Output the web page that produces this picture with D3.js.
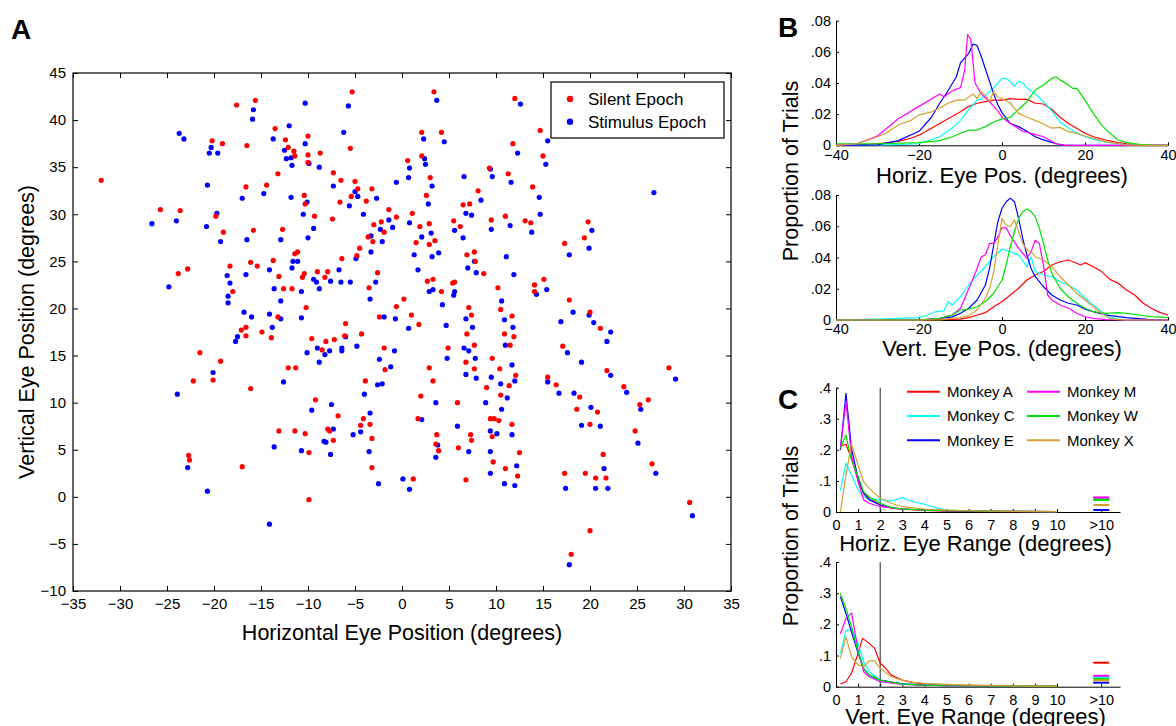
<!doctype html>
<html lang="en">
<head>
<meta charset="UTF-8" />
<title>Eye position during fixation</title>
<style>
  body { margin: 0; background: #fff; font-family: "Liberation Sans", Arial, sans-serif; }
  svg { display: block; }
  .axis text { font-family: "Liberation Sans", Arial, sans-serif; fill: #000; }
  .axis path, .axis line { stroke: #000; }
</style>
</head>
<body>
<svg id="chart" width="1176" height="726"></svg>
<script src="https://d3js.org/d3.v7.min.js"></script>
<script>
// panel A: eye position per trial, [horizontal, vertical] in degrees
const silent = [
  [-17.6,41.6],[-15.6,42.1],[-20.2,37.8],[-19.1,37.5],[-16.5,37.3],[-13.5,39.1],[-12.4,37.9],[-12.1,37.1],[-11.5,36.7],[-11.4,36.2],
  [-32.0,33.6],[-16.6,32.9],[-14.4,33.1],[-13.2,34.3],[-25.7,30.5],[-23.6,30.4],[-19.8,29.8],[-19.0,28.1],[-15.8,28.3],[-12.7,28.4],
  [-11.4,25.8],[-18.3,24.5],[-16.1,24.9],[-15.4,24.5],[-13.7,25.1],[-23.8,23.7],[-22.8,24.2],[-13.1,23.4],[-12.6,22.1],[-11.7,22.1],
  [-18.0,21.8],[-13.2,19.1],[-16.6,18.0],
  [-5.3,43.0],[3.4,43.0],[-10.0,38.3],[-10.0,36.3],[-10.0,35.5],[-8.7,36.5],[-5.5,37.0],[2.1,38.7],[4.2,38.7],[2.1,36.2],
  [0.6,35.7],[3.0,33.9],[2.6,32.0],[11.8,37.5],[9.3,34.9],[11.3,34.3],[-7.3,34.4],[-6.5,33.6],[-5.0,33.5],[-4.7,32.7],
  [-5.4,31.9],[-6.6,31.3],[-3.2,32.7],[-3.8,31.4],[-1.4,30.5],[-0.6,29.7],[-2.2,29.2],[-3.0,28.9],[-1.9,28.1],[-3.6,27.6],
  [-3.1,27.1],[-10.4,32.0],[-10.3,31.1],[-9.3,29.8],[-7.4,29.5],[1.1,30.1],[1.9,28.7],[2.9,29.0],[1.5,27.0],[2.9,26.8],
  [3.5,27.2],[2.7,22.9],[3.3,23.1],[4.2,21.8],[0.2,21.0],[-0.6,20.2],[1.0,19.3],[1.8,18.3],[5.5,29.3],[6.2,28.7],
  [6.5,31.0],[7.2,31.1],[8.1,32.5],[9.5,29.4],[11.0,29.8],[6.9,25.7],[7.7,26.0],[7.8,25.0],[8.7,23.7],[5.4,22.7],
  [5.6,22.8],[10.2,22.2],[10.5,19.9],[11.7,19.2],[7.1,20.1],[7.4,19.3],[-6.0,18.4],[-2.4,19.1],[-3.5,22.2],[-2.6,23.8],
  [-4.5,26.4],[-4.8,25.6],[-6.4,25.3],[-7.9,23.9],[-8.2,23.3],[-9.0,23.9],[-10.4,23.7],[-10.6,23.3],[-11.1,26.0],[-10.2,20.1],
  [12.0,42.3],[14.7,38.9],[15.0,36.2],[13.9,32.9],[13.1,29.3],[13.7,29.1],[17.3,26.9],[19.8,29.2],[19.4,27.5],[14.1,22.5],
  [15.1,23.1],[14.1,21.8],[17.8,20.9],[20.0,19.6],[21.1,17.9],
  [-17.1,17.7],[-14.9,17.5],[-16.6,17.1],[-13.9,16.9],[-21.5,15.3],[-19.3,14.4],[-20.1,12.4],[-22.2,12.3],[-16.1,11.5],[-12.1,13.7],
  [-13.1,7.0],[-11.4,7.0],[-22.7,4.4],[-22.6,3.9],[-17.0,3.2],
  [-9.6,16.8],[-8.1,16.5],[-7.2,16.7],[-6.1,17.1],[-8.5,15.6],[-11.3,13.7],[-4.3,17.3],[-1.9,15.8],[-1.8,13.5],[6.9,17.3],
  [4.9,15.8],[7.7,16.1],[6.8,14.3],[7.7,13.6],[10.9,17.3],[11.9,17.0],[11.5,16.1],[9.6,14.7],[10.4,13.6],[11.4,11.8],
  [9.0,11.6],[10.5,10.8],[9.4,8.3],[9.8,8.3],[10.3,8.1],[11.7,7.7],[9.6,6.4],[9.7,3.7],[11.0,3.0],[2.9,13.7],
  [3.3,12.3],[2.0,10.7],[1.7,8.3],[5.9,10.0],[7.3,6.6],[7.4,6.0],[6.0,5.2],[6.8,1.8],[3.7,6.6],[3.6,5.6],
  [3.9,4.9],[1.2,1.9],[-3.9,12.3],[-4.1,8.3],[-4.4,7.6],[-3.4,7.7],[-3.2,6.2],[-3.2,3.1],[-9.2,10.3],[-6.8,8.6],
  [-7.9,7.2],[-7.7,7.0],[-7.3,6.0],[-10.3,6.7],[-9.9,4.7],[-9.9,-0.3],
  [17.1,16.0],[21.8,13.4],[12.1,12.9],[15.5,12.7],[16.4,11.9],[18.9,10.6],[23.6,11.7],[25.3,9.8],[26.2,10.3],[28.4,13.7],
  [18.6,9.3],[20.8,9.0],[20.0,7.7],[24.8,7.0],[21.4,4.5],[26.6,3.5],[12.5,4.7],[12.3,2.2],[17.3,2.5],[19.5,2.5],
  [20.6,2.0],[21.7,2.0],[30.6,-0.6],[20.0,-3.6],[18.0,-6.1]
];

const stimulus = [
  [-15.8,41.1],[-15.9,40.1],[-23.7,38.6],[-23.2,38.0],[-20.3,37.1],[-20.5,36.5],[-19.6,36.5],[-12.0,39.4],[-13.7,38.0],[-12.5,36.8],
  [-11.8,36.0],[-12.3,35.9],[-11.7,35.2],[-20.7,33.1],[-17.0,31.7],[-14.7,32.2],[-11.8,31.8],[-26.6,29.0],[-24.0,29.3],[-19.7,30.1],
  [-20.8,28.7],[-19.3,27.1],[-16.5,27.3],[-12.9,27.3],[-11.6,25.0],[-11.7,24.3],[-14.1,24.1],[-18.6,23.5],[-16.6,23.6],[-18.3,22.7],
  [-13.6,22.1],[-24.8,22.3],[-18.5,21.3],[-18.5,20.6],[-12.9,20.8],[-16.8,19.6],[-16.0,19.1],[-14.1,19.4],[-12.9,18.9],[-13.8,18.0],
  [-10.3,41.8],[-5.7,41.5],[3.7,42.1],[-6.2,38.7],[-10.3,37.5],[-9.9,35.4],[-8.8,35.0],[2.3,38.0],[4.5,37.7],[2.4,35.9],
  [2.5,35.3],[0.8,34.9],[0.7,33.9],[3.2,33.0],[2.8,31.1],[9.4,34.8],[9.6,34.0],[6.6,34.0],[11.6,33.4],[-0.6,33.4],
  [-7.3,33.0],[-5.0,32.4],[-4.7,31.9],[-5.6,30.9],[-2.7,31.7],[-4.1,30.0],[-1.4,29.4],[-1.0,28.6],[-2.3,28.4],[-3.3,27.7],
  [-2.1,27.1],[-10.1,31.3],[-10.5,30.0],[-9.4,28.5],[-10.0,27.5],[0.8,29.1],[3.1,28.0],[2.1,27.6],[1.3,25.7],[3.9,25.9],
  [3.2,25.5],[1.7,24.1],[2.9,21.8],[3.3,22.0],[4.3,20.4],[0.7,17.9],[4.7,18.2],[5.6,28.3],[6.5,27.5],[6.8,30.1],
  [7.4,29.9],[8.4,31.5],[9.5,28.4],[11.5,28.8],[7.7,25.0],[7.0,24.3],[7.9,23.8],[11.1,25.5],[11.9,23.6],[5.6,21.8],
  [5.5,21.4],[10.6,20.8],[10.9,18.8],[11.8,18.0],[6.8,18.9],[7.5,18.0],[-1.9,19.1],[-0.7,18.9],[-3.4,21.0],[-2.8,22.8],
  [-3.3,26.0],[-4.9,25.3],[-6.7,24.1],[-6.5,22.8],[-5.5,22.8],[-7.6,22.9],[-8.8,22.1],[-9.1,22.8],[-9.4,23.1],[-11.1,25.0],
  [-10.7,21.8],[-10.7,19.0],
  [12.6,41.7],[15.5,37.8],[12.3,36.5],[15.3,35.3],[14.6,31.8],[14.7,30.0],[13.8,28.1],[17.8,25.7],[20.2,28.3],[19.9,26.4],
  [26.8,32.3],[14.3,21.5],[15.4,22.0],[18.2,19.6],[19.9,19.3],[16.9,18.6],[20.4,18.5],
  [-17.5,17.0],[-17.7,16.5],[-20.1,13.2],[-23.9,10.9],[-12.6,12.2],[-13.6,5.3],[-22.8,3.1],[-20.7,0.6],[-14.1,-2.9],
  [-6.0,17.0],[-10.1,15.3],[-9.0,15.8],[-8.2,15.1],[-7.7,15.5],[-6.4,15.8],[-6.4,15.5],[-8.8,14.3],[-4.8,16.0],[-0.8,15.5],
  [-2.4,14.6],[-1.2,13.8],[4.8,14.7],[6.6,15.8],[7.1,15.5],[7.8,14.7],[6.8,13.0],[7.9,12.6],[11.0,16.1],[9.5,12.7],
  [10.5,12.0],[11.7,14.0],[8.9,10.0],[11.2,10.5],[10.6,9.3],[9.4,7.0],[10.1,6.7],[11.7,6.6],[9.4,4.8],[9.4,2.5],
  [10.9,1.4],[12.0,1.2],[3.6,10.0],[2.1,8.2],[5.9,7.5],[7.1,4.8],[3.8,5.5],[3.6,4.2],[0.1,1.9],[0.8,0.8],
  [-2.5,1.4],[-4.0,10.9],[-3.4,8.9],[-4.4,6.9],[-5.2,6.6],[-3.5,4.8],[-2.6,11.9],[-2.1,12.0],[-9.6,9.2],[-7.5,9.8],
  [-7.3,7.2],[-8.3,5.9],[-8.1,5.8],[-7.6,4.5],[-10.7,4.9],
  [22.2,17.5],[21.8,16.5],[17.6,15.3],[19.1,14.3],[22.2,12.9],[12.0,12.3],[15.5,12.2],[16.7,11.0],[18.3,11.0],[23.9,11.1],
  [25.4,9.3],[29.1,12.5],[20.1,9.5],[19.1,7.6],[21.1,7.5],[25.1,5.7],[27.0,2.5],[12.2,3.3],[17.4,0.9],[20.6,0.9],
  [21.5,3.0],[21.9,0.9],[30.9,-2.0],[17.8,-7.2]
];

const scatterXTicks = d3.range(-35, 36, 5);
const scatterYTicks = d3.range(-10, 46, 5);
const epochNames = ["Silent Epoch", "Stimulus Epoch"];
const epochColors = ["#ff0000", "#0000ff"];

// panels B and C: one curve per monkey, [degrees, proportion]
const monkeys = ["Monkey A", "Monkey C", "Monkey E", "Monkey M", "Monkey W", "Monkey X"];
const monkeyColors = ["#ff0000", "#00ffff", "#0000ff", "#ff00ff", "#00e000", "#d4a030"];

const hPosA = [[-40,0],[-35,0.0002],[-30,0.001],[-25,0.0025],[-22,0.0045],[-20,0.0065],[-17,0.011],[-15,0.014],[-13,0.017],[-10,0.0215],[-8,0.025],[-6,0.027],[-4,0.028],[-2,0.029],[0,0.029],[2,0.030],[4,0.0295],[6,0.0295],[8,0.027],[10,0.0265],[12,0.023],[14,0.018],[16,0.014],[18,0.011],[20,0.0077],[22,0.0055],[25,0.0034],[28,0.0017],[30,0.001],[35,0.0002],[40,0]];
const hPosC = [[-40,0],[-30,0.0002],[-25,0.0005],[-20,0.001],[-15,0.0055],[-12,0.011],[-10,0.016],[-8,0.023],[-6,0.029],[-5,0.03],[-4,0.032],[-2,0.037],[0,0.043],[1,0.043],[2,0.041],[3,0.038],[4,0.041],[5,0.04],[6,0.037],[8,0.033],[10,0.028],[12,0.022],[14,0.015],[16,0.011],[18,0.008],[20,0.0055],[22,0.004],[25,0.002],[28,0.001],[30,0.0003],[35,0],[40,0]];
const hPosE = [[-40,0],[-30,0.0003],[-25,0.003],[-20,0.009],[-17,0.018],[-15,0.027],[-13,0.035],[-11,0.044],[-10,0.053],[-8,0.059],[-7,0.065],[-6,0.064],[-5,0.057],[-4,0.049],[-3,0.041],[-2,0.033],[-1,0.026],[0,0.021],[2,0.014],[4,0.012],[6,0.009],[8,0.0055],[10,0.0035],[13,0.001],[15,0.0002],[20,0],[40,0]];
const hPosM = [[-40,0],[-35,0.001],[-30,0.006],[-25,0.017],[-20,0.025],[-15,0.033],[-14,0.031],[-12,0.035],[-10,0.037],[-9,0.048],[-8.3,0.071],[-7.5,0.068],[-6.5,0.04],[-5,0.033],[-3,0.028],[-1,0.022],[0,0.018],[2,0.014],[5,0.009],[8,0.007],[10,0.0055],[13,0.001],[15,0],[40,0]];
const hPosW = [[-40,0.001],[-30,0.001],[-20,0.0017],[-15,0.003],[-12,0.0055],[-10,0.0077],[-8,0.0098],[-6,0.0098],[-4,0.012],[-2,0.015],[0,0.017],[2,0.018],[4,0.023],[6,0.028],[8,0.0355],[10,0.0387],[12,0.043],[13,0.044],[14,0.042],[16,0.0387],[17,0.0366],[18,0.0366],[20,0.029],[22,0.0205],[24,0.013],[26,0.0077],[28,0.0034],[30,0.0017],[33,0.0006],[36,0.0002],[40,0]];
const hPosX = [[-40,0],[-35,0.001],[-30,0.0055],[-28,0.0077],[-25,0.013],[-22,0.016],[-20,0.0195],[-17,0.0215],[-15,0.024],[-13,0.027],[-11,0.029],[-9,0.029],[-7,0.033],[-6,0.030],[-5,0.0345],[-4,0.032],[-3,0.028],[-2,0.0345],[-1,0.031],[0,0.030],[2,0.027],[4,0.0205],[6,0.018],[8,0.016],[10,0.0137],[12,0.011],[14,0.0115],[16,0.0088],[18,0.0077],[20,0.006],[22,0.0045],[25,0.0024],[28,0.001],[30,0.0003],[35,0],[40,0]];

const vPosA = [[-40,0],[-20,0],[-10,0.0006],[-8,0.0015],[-6,0.0032],[-4,0.0047],[-2,0.0085],[0,0.0117],[2,0.016],[4,0.0203],[6,0.0256],[8,0.0288],[10,0.031],[12,0.0352],[14,0.0373],[16,0.0384],[18,0.0363],[19,0.0352],[20,0.0367],[22,0.0341],[24,0.031],[26,0.026],[28,0.0235],[30,0.0192],[32,0.016],[34,0.0107],[36,0.0075],[38,0.0049],[40,0.0032]];
const vPosC = [[-40,0],[-30,0.0006],[-25,0.001],[-20,0.0015],[-18,0.0032],[-16,0.0053],[-14,0.0058],[-13,0.0117],[-12,0.0096],[-10,0.015],[-8,0.0224],[-6,0.0288],[-4,0.0341],[-2,0.0405],[0,0.0454],[2,0.0437],[4,0.0416],[6,0.0341],[7,0.0405],[8,0.031],[10,0.0288],[12,0.0277],[14,0.0245],[16,0.0224],[18,0.0192],[20,0.0139],[22,0.0096],[24,0.0053],[26,0.0021],[28,0.0006],[30,0],[40,0]];
const vPosE = [[-40,0],[-20,0],[-15,0.001],[-12,0.002],[-10,0.0043],[-8,0.0075],[-6,0.0128],[-4,0.0224],[-3,0.033],[-2,0.048],[-1,0.063],[0,0.0715],[1,0.0757],[2,0.078],[3,0.0757],[4,0.065],[5,0.052],[6,0.0416],[7,0.033],[8,0.0277],[10,0.0213],[12,0.016],[14,0.0128],[16,0.0107],[18,0.0096],[20,0.007],[22,0.0053],[25,0.0032],[28,0.0021],[30,0.0015],[35,0.0004],[40,0]];
const vPosM = [[-40,0],[-20,0],[-15,0.001],[-12,0.0032],[-10,0.0075],[-8,0.02],[-6,0.033],[-5,0.0405],[-4,0.0416],[-3,0.049],[-2,0.049],[-1,0.053],[0,0.059],[1,0.059],[2,0.054],[3,0.05],[4,0.046],[5,0.0427],[6,0.0395],[7,0.0437],[8,0.051],[9,0.049],[10,0.035],[11,0.016],[12,0.0128],[14,0.0096],[16,0.0075],[18,0.0043],[20,0.0021],[22,0.001],[25,0.0003],[30,0],[40,0]];
const vPosW = [[-40,0],[-20,0],[-15,0.001],[-12,0.0032],[-10,0.0064],[-8,0.007],[-6,0.0085],[-4,0.0117],[-2,0.0171],[0,0.0256],[1,0.0352],[2,0.0469],[3,0.0565],[4,0.065],[5,0.0693],[6,0.071],[7,0.0693],[8,0.066],[9,0.0587],[10,0.049],[11,0.0384],[12,0.0299],[14,0.0203],[16,0.0149],[18,0.0107],[20,0.0075],[22,0.0053],[25,0.0043],[28,0.0047],[30,0.0043],[33,0.0032],[36,0.0021],[40,0.0015]];
const vPosX = [[-40,0],[-15,0],[-12,0.001],[-10,0.0015],[-8,0.0028],[-6,0.0064],[-4,0.0139],[-3,0.02],[-2,0.031],[-1,0.048],[0,0.065],[1,0.0608],[2,0.0597],[3,0.064],[4,0.0565],[5,0.049],[6,0.0448],[7,0.0437],[8,0.0405],[10,0.0384],[12,0.0341],[14,0.0277],[16,0.0224],[18,0.0171],[20,0.0128],[22,0.0085],[24,0.0043],[26,0.001],[28,0.0002],[30,0],[40,0]];

const hRngA = [[0.2,0.212],[0.45,0.218],[0.7,0.173],[1.0,0.103],[1.25,0.06],[1.5,0.044],[2,0.0225],[2.5,0.012],[3,0.009],[4,0.005],[5,0.003],[6,0.002],[8,0.0015],[10,0.001]];
const hRngC = [[0.2,0.068],[0.45,0.157],[0.7,0.119],[1.0,0.071],[1.25,0.049],[1.5,0.042],[2,0.039],[2.5,0.036],[3,0.046],[3.5,0.033],[4,0.025],[4.5,0.014],[5,0.0064],[6,0.004],[8,0.002],[10,0.001]];
const hRngE = [[0.2,0.2],[0.45,0.382],[0.7,0.205],[1.0,0.108],[1.25,0.06],[1.5,0.039],[2,0.0225],[2.5,0.014],[3,0.0097],[4,0.0064],[5,0.004],[6,0.003],[8,0.002],[10,0.001]];
const hRngM = [[0.2,0.205],[0.45,0.355],[0.7,0.183],[1.0,0.098],[1.25,0.039],[1.5,0.028],[2,0.017],[3,0.0097],[4,0.006],[5,0.004],[8,0.002],[10,0.001]];
const hRngW = [[0.2,0.205],[0.45,0.248],[0.7,0.167],[1.0,0.114],[1.25,0.065],[1.5,0.049],[2,0.028],[2.5,0.014],[3,0.01],[4,0.006],[5,0.004],[8,0.002],[10,0.001]];
const hRngX = [[0.2,0],[0.45,0.119],[0.7,0.219],[1.0,0.151],[1.25,0.098],[1.5,0.076],[2,0.044],[2.5,0.028],[3,0.017],[4,0.0097],[5,0.0064],[6,0.004],[8,0.002],[10,0.001]];

const vRngA = [[0.2,0.0086],[0.45,0.016],[0.7,0.043],[1.0,0.107],[1.2,0.155],[1.5,0.139],[1.75,0.123],[2,0.075],[2.25,0.059],[2.5,0.037],[3,0.021],[3.5,0.013],[4,0.0086],[5,0.005],[6,0.004],[8,0.002],[10,0.001]];
const vRngC = [[0.2,0.107],[0.45,0.18],[0.7,0.184],[1.0,0.139],[1.25,0.08],[1.5,0.048],[2,0.021],[2.5,0.013],[3,0.009],[4,0.006],[5,0.004],[8,0.002],[10,0.001]];
const vRngE = [[0.2,0.289],[0.45,0.235],[0.7,0.176],[1.0,0.107],[1.25,0.059],[1.5,0.037],[2,0.021],[3,0.009],[4,0.005],[5,0.003],[8,0.002],[10,0.001]];
const vRngM = [[0.2,0.169],[0.45,0.219],[0.7,0.237],[1.0,0.118],[1.25,0.048],[1.5,0.032],[2,0.016],[3,0.007],[4,0.005],[5,0.003],[8,0.002],[10,0.001]];
const vRngW = [[0.2,0.30],[0.45,0.251],[0.7,0.193],[1.0,0.112],[1.25,0.059],[1.5,0.037],[2,0.021],[3,0.008],[4,0.005],[5,0.003],[8,0.002],[10,0.001]];
const vRngX = [[0.2,0.091],[0.45,0.16],[0.7,0.096],[1.0,0.07],[1.25,0.064],[1.5,0.083],[1.75,0.083],[2,0.059],[2.5,0.032],[3,0.021],[3.5,0.014],[4,0.011],[5,0.0075],[6,0.005],[8,0.003],[10,0.002]];

// proportion of trials with range above 10 degrees (A, C, E, M, W, X)
const hOver10 = [0.041, 0.040, 0.0064, 0.047, 0.039, 0.0225];
const vOver10 = [0.077, 0.030, 0.013, 0.035, 0.025, 0.020];

const posTicks = [-40, -20, 0, 20, 40];
const rangeTicks = [0, 1, 2, 3, 4, 5, 6, 7, 8, 9, 10, 12];
const over10At = 12;
const cutoff = 2;

const svg = d3.select("#chart");
const FONT = '"Liberation Sans", Arial, sans-serif';

// ---------- panel A ----------
const sx = d3.scaleLinear().domain([-35, 35]).range([73, 731]);
const sy = d3.scaleLinear().domain([-10, 45]).range([591, 73]);

const gA = svg.append("g");
gA.append("rect")
  .attr("x", sx(-35)).attr("y", sy(45))
  .attr("width", sx(35) - sx(-35)).attr("height", sy(-10) - sy(45))
  .attr("fill", "none").attr("stroke", "#000").attr("stroke-width", 1.2);

gA.append("g").attr("class", "axis")
  .attr("transform", `translate(0,${sy(-10)})`)
  .call(d3.axisBottom(sx).tickValues(scatterXTicks).tickSizeInner(-5).tickSizeOuter(0).tickPadding(7))
  .call(g => g.select(".domain").remove())
  .selectAll("text").attr("font-size", 15);
gA.append("g").attr("class", "axis")
  .attr("transform", `translate(0,${sy(45)})`)
  .call(d3.axisTop(sx).tickValues(scatterXTicks).tickSizeInner(-5).tickSizeOuter(0).tickFormat(""))
  .call(g => g.select(".domain").remove());
gA.append("g").attr("class", "axis")
  .attr("transform", `translate(${sx(-35)},0)`)
  .call(d3.axisLeft(sy).tickValues(scatterYTicks).tickSizeInner(-5).tickSizeOuter(0).tickPadding(7))
  .call(g => g.select(".domain").remove())
  .selectAll("text").attr("font-size", 15);
gA.append("g").attr("class", "axis")
  .attr("transform", `translate(${sx(35)},0)`)
  .call(d3.axisRight(sy).tickValues(scatterYTicks).tickSizeInner(-5).tickSizeOuter(0).tickFormat(""))
  .call(g => g.select(".domain").remove());

gA.append("g").selectAll("circle").data(stimulus).join("circle")
  .attr("cx", d => sx(d[0])).attr("cy", d => sy(d[1])).attr("r", 2.6)
  .attr("fill", epochColors[1]);
gA.append("g").selectAll("circle").data(silent).join("circle")
  .attr("cx", d => sx(d[0])).attr("cy", d => sy(d[1])).attr("r", 2.6)
  .attr("fill", epochColors[0]);

gA.append("text").attr("x", sx(0)).attr("y", 640).attr("text-anchor", "middle")
  .attr("font-size", 21.5).attr("font-family", FONT)
  .text("Horizontal Eye Position (degrees)");
gA.append("text").attr("transform", `translate(34,${sy(17.5)}) rotate(-90)`)
  .attr("text-anchor", "middle").attr("font-size", 21.5).attr("font-family", FONT)
  .text("Vertical Eye Position (degrees)");

// legend A
const legA = gA.append("g");
legA.append("rect").attr("x", 551).attr("y", 82).attr("width", 173).attr("height", 56)
  .attr("fill", "#fff").attr("stroke", "#000").attr("stroke-width", 1.2);
epochNames.forEach((name, i) => {
  const yy = 99 + i * 22.7;
  legA.append("circle").attr("cx", 570).attr("cy", yy).attr("r", 3.2).attr("fill", epochColors[i]);
  legA.append("text").attr("x", 588).attr("y", yy).attr("dy", "0.35em")
    .attr("font-size", 17).attr("font-family", FONT).text(name);
});

// ---------- panels B and C ----------
function linePanel(opts) {
  const g = svg.append("g");
  const x = d3.scaleLinear().domain(opts.xDomain).range([836, opts.xEnd]);
  const y = d3.scaleLinear().domain(opts.yDomain).range([opts.bottom, opts.top]);

  g.append("g").attr("class", "axis")
    .attr("transform", `translate(0,${opts.bottom})`)
    .call(d3.axisBottom(x).tickValues(opts.xTicks).tickFormat(opts.xFormat)
      .tickSizeInner(-3).tickSizeOuter(0).tickPadding(opts.xPad))
    .selectAll("text").attr("font-size", 14.5);
  g.append("g").attr("class", "axis")
    .attr("transform", "translate(836,0)")
    .call(d3.axisLeft(y).tickValues(opts.yTicks).tickFormat(opts.yFormat)
      .tickSizeInner(-3).tickSizeOuter(0).tickPadding(5))
    .selectAll("text").attr("font-size", 14.5);

  if (opts.cutoff !== undefined) {
    g.append("line").attr("x1", x(opts.cutoff)).attr("x2", x(opts.cutoff))
      .attr("y1", y(opts.yDomain[0])).attr("y2", y(opts.yDomain[1]))
      .attr("stroke", "#222").attr("stroke-width", 1);
  }

  const line = d3.line().x(d => x(d[0])).y(d => y(d[1]));
  opts.series.forEach((s, i) => {
    g.append("path").datum(s).attr("d", line)
      .attr("fill", "none").attr("stroke", monkeyColors[i]).attr("stroke-width", 1.2)
      .attr("stroke-linejoin", "round");
  });

  if (opts.over) {
    opts.over.forEach((v, i) => {
      g.append("line")
        .attr("x1", x(over10At) - 8).attr("x2", x(over10At) + 8)
        .attr("y1", y(v)).attr("y2", y(v))
        .attr("stroke", monkeyColors[i]).attr("stroke-width", 2);
    });
  }

  g.append("text").attr("x", (836 + opts.xLabelCenter) / 2).attr("y", opts.labelY)
    .attr("text-anchor", "middle").attr("font-size", 22).attr("font-family", FONT)
    .text(opts.label);
  return { g, x, y };
}

const propFmt = d => d === 0 ? "0" : d3.format(".2f")(d).replace(/^0/, "");
const propFmt1 = d => d === 0 ? "0" : d3.format(".1f")(d).replace(/^0/, "");
const rangeFmt = d => d === over10At ? ">10" : d;

linePanel({
  xDomain: [-40, 40], xEnd: 1168, yDomain: [0, 0.08], top: 20.7, bottom: 145.3,
  xTicks: posTicks, xFormat: d3.format("d"), xPad: 4,
  yTicks: [0, 0.02, 0.04, 0.06, 0.08], yFormat: propFmt,
  series: [hPosA, hPosC, hPosE, hPosM, hPosW, hPosX],
  label: "Horiz. Eye Pos. (degrees)", labelY: 183, xLabelCenter: 1168
});
linePanel({
  xDomain: [-40, 40], xEnd: 1168, yDomain: [0, 0.08], top: 195, bottom: 320,
  xTicks: posTicks, xFormat: d3.format("d"), xPad: 4,
  yTicks: [0, 0.02, 0.04, 0.06, 0.08], yFormat: propFmt,
  series: [vPosA, vPosC, vPosE, vPosM, vPosW, vPosX],
  label: "Vert. Eye Pos. (degrees)", labelY: 356, xLabelCenter: 1168
});
linePanel({
  xDomain: [0, 12.85], xEnd: 1120, yDomain: [0, 0.4], top: 387.7, bottom: 512,
  xTicks: rangeTicks, xFormat: rangeFmt, xPad: 8,
  yTicks: [0, 0.1, 0.2, 0.3, 0.4], yFormat: propFmt1, cutoff: cutoff,
  series: [hRngA, hRngC, hRngE, hRngM, hRngW, hRngX], over: hOver10,
  label: "Horiz. Eye Range (degrees)", labelY: 551, xLabelCenter: 1115
});
linePanel({
  xDomain: [0, 12.85], xEnd: 1120, yDomain: [0, 0.4], top: 562, bottom: 686.7,
  xTicks: rangeTicks, xFormat: rangeFmt, xPad: 8,
  yTicks: [0, 0.1, 0.2, 0.3, 0.4], yFormat: propFmt1, cutoff: cutoff,
  series: [vRngA, vRngC, vRngE, vRngM, vRngW, vRngX], over: vOver10,
  label: "Vert. Eye Range (degrees)", labelY: 724, xLabelCenter: 1115
});

// legend C
const legC = svg.append("g");
monkeys.forEach((name, i) => {
  const col = Math.floor(i / 3), row = i % 3;
  const lx = 907 + col * 120, ly = 391.7 + row * 24.3;
  legC.append("line").attr("x1", lx).attr("x2", lx + 33).attr("y1", ly).attr("y2", ly)
    .attr("stroke", monkeyColors[i]).attr("stroke-width", 2);
  legC.append("text").attr("x", lx + 40).attr("y", ly).attr("dy", "0.35em")
    .attr("font-size", 15).attr("font-family", FONT).text(name);
});

// y labels and panel letters
[[171, "Proportion of Trials"], [536, "Proportion of Trials"]].forEach(([cy, t]) => {
  svg.append("text").attr("transform", `translate(798,${cy}) rotate(-90)`)
    .attr("text-anchor", "middle").attr("font-size", 21.5).attr("font-family", FONT).text(t);
});
[["A", 11, 39], ["B", 778, 37], ["C", 778, 409]].forEach(([t, x, y]) => {
  svg.append("text").attr("x", x).attr("y", y).attr("font-size", 28)
    .attr("font-weight", "bold").attr("font-family", FONT).text(t);
});
</script>
</body>
</html>
